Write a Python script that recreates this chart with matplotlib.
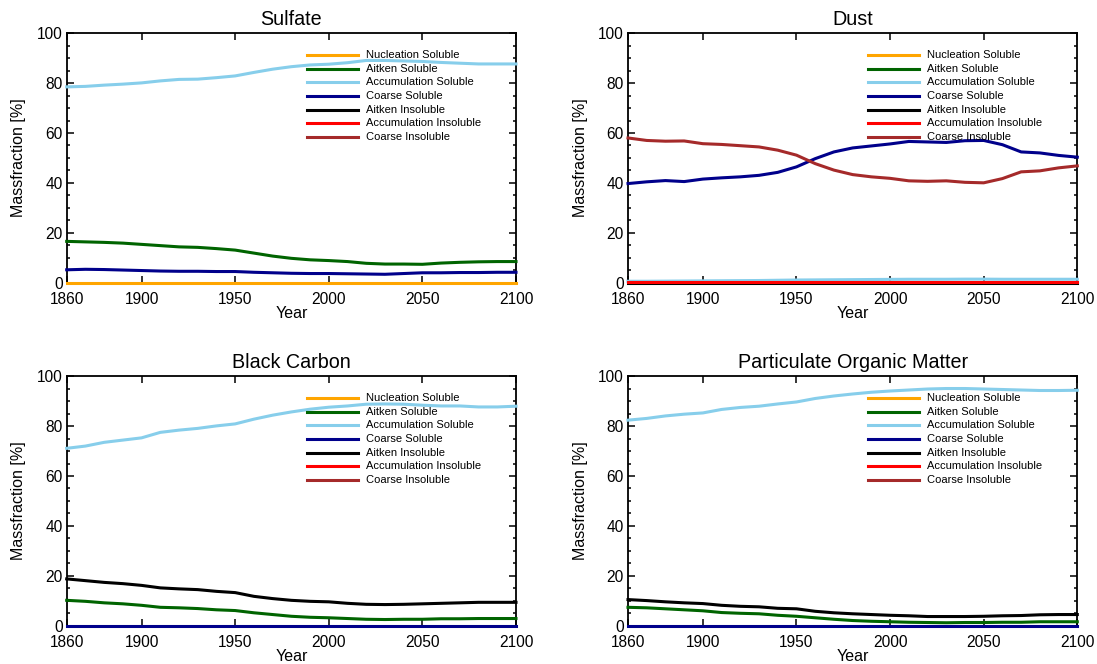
import matplotlib
matplotlib.use("Agg")
import matplotlib.pyplot as plt
from matplotlib.ticker import MultipleLocator

plt.rcParams['font.family'] = ['Liberation Sans', 'DejaVu Sans']

# ---- data (mass fraction in %, every 10 years) ----
years = list(range(1860, 2101, 10))
zero = [0.0] * len(years)

# Sulfate
so4_nuc_sol = zero
so4_ait_sol = [16.5, 16.3, 16.1, 15.8, 15.3, 14.8, 14.3, 14.1, 13.6, 13.0, 11.8, 10.6, 9.7,
               9.1, 8.8, 8.4, 7.7, 7.4, 7.4, 7.3, 7.8, 8.1, 8.3, 8.4, 8.4]
so4_acc_sol = [78.5, 78.7, 79.2, 79.6, 80.1, 80.9, 81.5, 81.6, 82.2, 82.9, 84.3, 85.6, 86.6,
               87.3, 87.6, 88.2, 89.1, 89.1, 88.9, 88.7, 88.3, 88.0, 87.7, 87.7, 87.7]
so4_coa_sol = [5.1, 5.3, 5.2, 5.0, 4.8, 4.6, 4.5, 4.5, 4.4, 4.4, 4.1, 3.9, 3.7,
               3.6, 3.6, 3.5, 3.4, 3.3, 3.6, 3.9, 3.9, 4.0, 4.0, 4.1, 4.1]

# Dust
du_acc_sol = [0.5, 0.5, 0.55, 0.6, 0.65, 0.7, 0.75, 0.8, 0.9, 1.0, 1.05, 1.1, 1.15,
              1.2, 1.25, 1.3, 1.3, 1.3, 1.35, 1.35, 1.3, 1.3, 1.3, 1.3, 1.3]
du_coa_sol = [39.7, 40.4, 40.9, 40.5, 41.5, 42.0, 42.4, 43.0, 44.2, 46.4, 49.7, 52.4, 54.0,
              54.8, 55.6, 56.6, 56.4, 56.2, 56.9, 57.0, 55.3, 52.4, 52.0, 51.0, 50.3]
du_ait_ins = zero
du_acc_ins = [0.3] * len(years)
du_coa_ins = [58.0, 57.0, 56.7, 56.8, 55.7, 55.4, 54.9, 54.4, 53.1, 51.1, 47.7, 45.1, 43.3,
              42.4, 41.8, 40.8, 40.6, 40.8, 40.2, 40.0, 41.7, 44.4, 44.8, 46.0, 46.8]

# Black carbon
bc_ait_sol = [10.1, 9.7, 9.1, 8.7, 8.1, 7.3, 7.1, 6.8, 6.3, 6.0, 5.1, 4.4, 3.7,
              3.3, 3.1, 2.8, 2.5, 2.4, 2.5, 2.5, 2.7, 2.7, 2.8, 2.8, 2.8]
bc_acc_sol = [71.1, 72.0, 73.5, 74.4, 75.3, 77.5, 78.4, 79.1, 80.1, 80.9, 82.8, 84.4, 85.7,
              86.8, 87.6, 88.1, 88.8, 88.9, 88.8, 88.4, 88.1, 88.1, 87.7, 87.7, 88.0]
bc_coa_sol = zero
bc_ait_ins = [18.7, 18.0, 17.3, 16.8, 16.1, 15.1, 14.7, 14.4, 13.7, 13.2, 11.7, 10.8, 10.1,
              9.7, 9.5, 8.9, 8.5, 8.4, 8.5, 8.7, 8.9, 9.1, 9.3, 9.3, 9.3]

# Particulate organic matter
pom_ait_sol = [7.3, 7.1, 6.7, 6.3, 5.9, 5.2, 4.9, 4.7, 4.1, 3.7, 3.1, 2.5, 2.0,
               1.7, 1.5, 1.3, 1.2, 1.1, 1.2, 1.2, 1.3, 1.3, 1.5, 1.5, 1.5]
pom_acc_sol = [82.4, 83.1, 84.1, 84.8, 85.3, 86.7, 87.5, 88.0, 88.9, 89.7, 91.1, 92.1, 92.9,
               93.6, 94.1, 94.5, 94.9, 95.1, 95.1, 94.9, 94.7, 94.5, 94.3, 94.3, 94.4]
pom_coa_sol = zero
pom_ait_ins = [10.4, 10.0, 9.5, 9.1, 8.8, 8.1, 7.7, 7.5, 6.9, 6.7, 5.7, 5.1, 4.7,
               4.4, 4.1, 3.9, 3.6, 3.6, 3.6, 3.7, 3.9, 4.0, 4.3, 4.4, 4.4]

mode_names = ['Nucleation Soluble', 'Aitken Soluble', 'Accumulation Soluble', 'Coarse Soluble',
              'Aitken Insoluble', 'Accumulation Insoluble', 'Coarse Insoluble']
mode_colors = ['#FFA500', '#006400', '#87CEEB', '#00008B', '#000000', '#FF0000', '#A52A2A']

titles = ['Sulfate', 'Dust', 'Black Carbon', 'Particulate Organic Matter']
# (mode index, series) per panel
panels = [
    [(0, so4_nuc_sol), (1, so4_ait_sol), (2, so4_acc_sol), (3, so4_coa_sol)],
    [(2, du_acc_sol), (3, du_coa_sol), (4, du_ait_ins), (5, du_acc_ins), (6, du_coa_ins)],
    [(1, bc_ait_sol), (2, bc_acc_sol), (3, bc_coa_sol), (4, bc_ait_ins)],
    [(1, pom_ait_sol), (2, pom_acc_sol), (3, pom_coa_sol), (4, pom_ait_ins)],
]

fig = plt.figure(figsize=(10.97, 6.64), dpi=100)
W, H = 1097, 664
boxes = [(66.7, 33.3), (628, 33.3), (66.7, 376.3), (628, 376.3)]
aw, ah = 449.3, 249.2

for k in range(4):
    x0, y0 = boxes[k]
    ax = fig.add_axes([x0 / W, 1 - (y0 + ah) / H, aw / W, ah / H])
    for idx, ser in panels[k]:
        ax.plot(years, ser, color=mode_colors[idx], lw=2.2, clip_on=False, zorder=3)

    ax.set_xlim(1860, 2100)
    ax.set_ylim(0, 100)
    ax.set_xticks([1860, 1900, 1950, 2000, 2050, 2100])
    ax.yaxis.set_major_locator(MultipleLocator(20))
    ax.yaxis.set_minor_locator(MultipleLocator(5))
    ax.tick_params(which='both', direction='in', top=True, right=True,
                   labelsize=11.2, width=1.1)
    ax.tick_params(which='major', length=5)
    ax.tick_params(which='minor', length=2.5)
    ax.tick_params(axis='x', pad=7)
    ax.tick_params(axis='y', pad=3)
    for sp in ax.spines.values():
        sp.set_linewidth(1.3)
        sp.set_zorder(2.5)

    ax.set_title(titles[k], fontsize=14.2, pad=6)
    ax.set_xlabel('Year', fontsize=11.5)
    ax.set_ylabel('Massfraction [%]', fontsize=11.5)
    ax.xaxis.set_label_coords(0.5, -30.6 / ah)
    ax.xaxis.label.set_va('center')
    ax.yaxis.set_label_coords(-47.7 / aw, 0.5)
    ax.yaxis.label.set_va('center')

    # legend block
    for i in range(len(mode_names)):
        yy = 0.913 - i * 0.0548
        ax.plot([0.534, 0.648], [yy, yy], color=mode_colors[i], lw=2.2,
                transform=ax.transAxes, zorder=4)
        ax.text(0.666, yy, mode_names[i], transform=ax.transAxes, fontsize=8,
                va='center', ha='left', zorder=4)

fig.savefig('out.png', dpi=100)
